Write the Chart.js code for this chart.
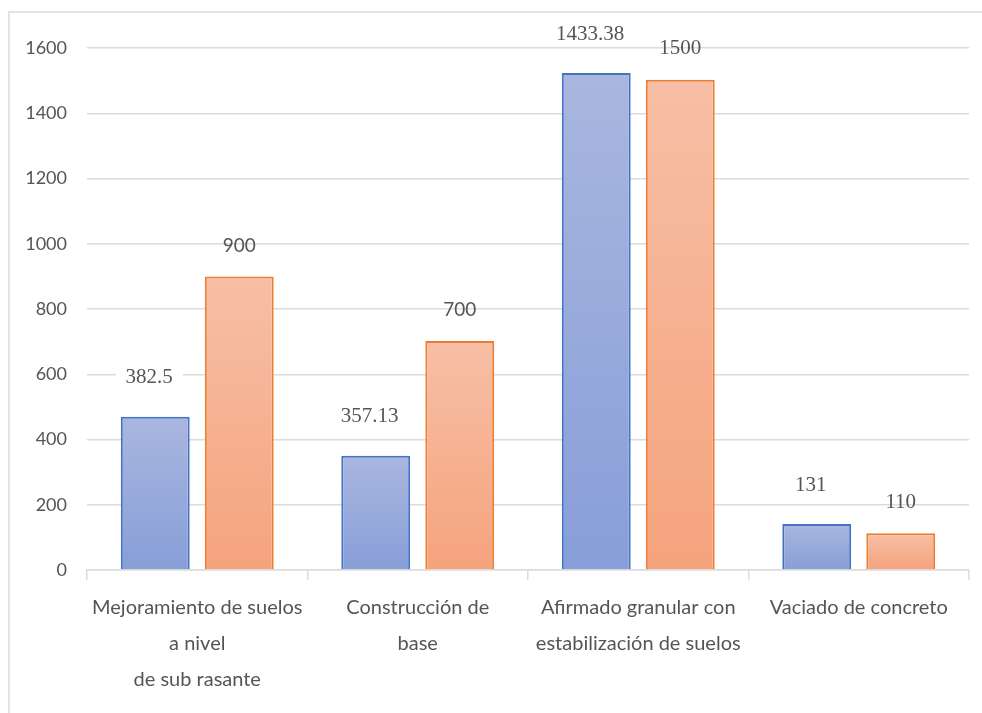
<!DOCTYPE html>
<html>
<head>
<meta charset="utf-8">
<script src="https://cdn.jsdelivr.net/npm/chart.js@4.4.1/dist/chart.umd.min.js"></script>
<style>
  body { margin: 0; background: #fff; }
  #wrap { position: relative; width: 982px; height: 713px; overflow: hidden; }
  #frame { position: absolute; left: 8px; top: 11px; width: 1100px; height: 900px; border: 2px solid #e4e4e4; }
  canvas { position: absolute; left: 0; top: 0; }
</style>
</head>
<body>
<div id="wrap">
  <div id="frame"></div>
  <canvas id="chart" width="982" height="713"></canvas>
</div>
<script>
  const categories = [
    ['Mejoramiento de suelos', 'a nivel', 'de sub rasante'],
    ['Construcción de', 'base'],
    ['Afirmado granular con', 'estabilización de suelos'],
    ['Vaciado de concreto']
  ];
  const blueValues = [470, 350, 1523, 141];
  const orangeValues = [900, 702, 1503, 113];
  const blueLabels = ['382.5', '357.13', '1433.38', '131'];
  const orangeLabels = ['900', '700', '1500', '110'];
  const yTicks = [0, 200, 400, 600, 800, 1000, 1200, 1400, 1600];

  const sansFont = 'Lato, "Open Sans", sans-serif';
  const serifFont = '"Liberation Serif", "DejaVu Serif", serif';
  const textColor = '#555555';
  const gridColor = '#dcdcdc';

  function barGradient(top, bottom) {
    return ctx => {
      const chart = ctx.chart;
      if (ctx.type !== 'data' || !chart.chartArea || !chart.scales.y) return bottom;
      const y = chart.scales.y;
      const y0 = y.getPixelForValue(ctx.raw);
      const y1 = y.getPixelForValue(0);
      const g = chart.ctx.createLinearGradient(0, y0, 0, y1);
      g.addColorStop(0, top);
      g.addColorStop(1, bottom);
      return g;
    };
  }

  // value labels above the bars; blue ones sit on a white box that hides the grid line
  const valueLabels = {
    id: 'valueLabels',
    afterDatasetsDraw(chart) {
      const c = chart.ctx;
      c.save();
      c.textAlign = 'center';
      c.textBaseline = 'middle';
      c.fillStyle = textColor;
      chart.getDatasetMeta(0).data.forEach((bar, i) => {
        c.font = '21px ' + serifFont;
        const x = bar.x - 6, y = bar.y - 39;
        const w = c.measureText(blueLabels[i]).width;
        c.fillStyle = '#fff';
        c.fillRect(x - w / 2 - 10, y - 12, w + 20, 24);
        c.fillStyle = textColor;
        c.fillText(blueLabels[i], x, y);
      });
      chart.getDatasetMeta(1).data.forEach((bar, i) => {
        c.font = i < 2 ? '19px ' + sansFont : '21px ' + serifFont;
        c.fillText(orangeLabels[i], bar.x, bar.y - 31);
      });
      c.restore();
    }
  };

  new Chart(document.getElementById('chart'), {
    type: 'bar',
    data: {
      labels: categories,
      datasets: [
        {
          label: 'Serie 1',
          data: blueValues,
          backgroundColor: barGradient('#a9b7df', '#889ed8'),
          borderColor: '#4472c4',
          borderWidth: 2,
          borderSkipped: 'bottom'
        },
        {
          label: 'Serie 2',
          data: orangeValues,
          backgroundColor: barGradient('#f7bfa6', '#f5a37d'),
          borderColor: '#ed7d31',
          borderWidth: 2,
          borderSkipped: 'bottom'
        }
      ]
    },
    options: {
      responsive: false,
      animation: false,
      layout: { padding: { top: 48, right: 13, bottom: 0, left: 0 } },
      plugins: { legend: { display: false }, tooltip: { enabled: false } },
      datasets: { bar: { categoryPercentage: 0.762, barPercentage: 0.82 } },
      scales: {
        x: {
          grid: { drawOnChartArea: false, drawTicks: true, tickLength: 10, color: gridColor, lineWidth: 1.5 },
          border: { display: true, color: gridColor, width: 1.5 },
          ticks: {
            color: textColor,
            padding: 10,
            maxRotation: 0,
            autoSkip: false,
            font: { family: sansFont, size: 20, lineHeight: 1.8 }
          },
          afterFit: s => { s.height = 143; }
        },
        y: {
          min: 0,
          max: 1600,
          afterBuildTicks: s => { s.ticks = yTicks.map(v => ({ value: v })); },
          grid: { drawTicks: false, color: gridColor, lineWidth: 1.5 },
          border: { display: false },
          ticks: {
            color: textColor,
            padding: 20,
            font: { family: sansFont, size: 18 },
            callback: v => String(v)
          },
          afterFit: s => { s.width = 87; }
        }
      }
    },
    plugins: [valueLabels]
  });
</script>
</body>
</html>
